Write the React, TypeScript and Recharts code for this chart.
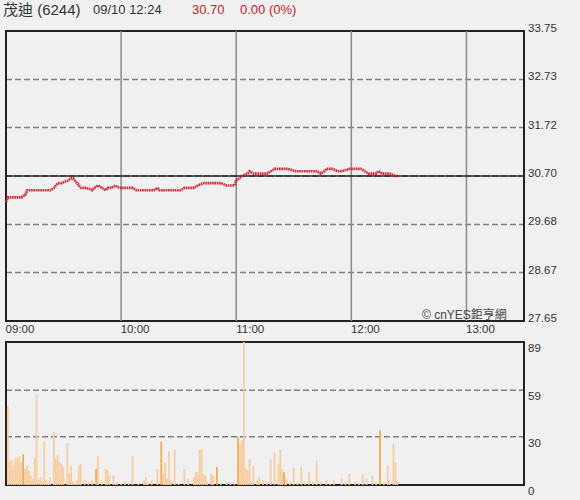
import React from 'react';
import {
  LineChart, Line, BarChart, Bar, Cell, XAxis, YAxis, CartesianGrid, ReferenceLine, ReferenceArea,
} from 'recharts';

// minutes since 09:00 and last price
const priceMinutes = [0, 1, 3, 5, 8, 10, 11, 14, 18, 23, 25, 27, 29, 32, 34, 35, 37, 39, 40, 42, 45, 46, 48, 50, 52, 53, 55, 57, 59, 63, 66, 68, 70, 77, 79, 80, 82, 91, 93, 98, 100, 103, 106, 110, 112, 115, 119, 120, 123, 126, 127, 129, 132, 134, 136, 138, 140, 143, 147, 151, 159, 162, 164, 166, 167, 170, 173, 175, 179, 182, 185, 187, 189, 191, 193, 194, 196, 198, 200, 203, 204];
const prices = [30.15, 30.25, 30.25, 30.25, 30.25, 30.3, 30.4, 30.4, 30.4, 30.4, 30.45, 30.55, 30.55, 30.6, 30.65, 30.65, 30.55, 30.45, 30.45, 30.45, 30.4, 30.45, 30.5, 30.45, 30.4, 30.45, 30.45, 30.5, 30.45, 30.45, 30.45, 30.4, 30.4, 30.4, 30.45, 30.4, 30.4, 30.4, 30.45, 30.45, 30.5, 30.55, 30.55, 30.55, 30.55, 30.5, 30.5, 30.6, 30.7, 30.75, 30.8, 30.75, 30.75, 30.75, 30.75, 30.8, 30.85, 30.85, 30.85, 30.8, 30.8, 30.8, 30.75, 30.8, 30.85, 30.85, 30.8, 30.8, 30.85, 30.85, 30.85, 30.8, 30.75, 30.75, 30.75, 30.8, 30.75, 30.75, 30.75, 30.7, 30.7];

// volume per minute (lots)
const volMinutes = [1, 2, 3, 4, 5, 6, 7, 8, 9, 10, 11, 12, 13, 14, 15, 16, 17, 18, 19, 20, 21, 22, 23, 25, 26, 27, 28, 29, 30, 32, 33, 34, 35, 36, 37, 38, 39, 41, 43, 45, 47, 48, 50, 52, 53, 54, 56, 57, 58, 60, 62, 64, 66, 69, 72, 73, 74, 76, 79, 81, 82, 83, 84, 85, 86, 88, 90, 93, 95, 98, 99, 100, 101, 102, 103, 104, 105, 107, 108, 110, 112, 115, 117, 119, 121, 122, 123, 124, 125, 126, 127, 128, 129, 131, 132, 134, 136, 138, 140, 142, 143, 144, 145, 146, 148, 150, 152, 154, 156, 158, 160, 162, 164, 167, 169, 171, 175, 177, 179, 182, 184, 186, 188, 191, 193, 195, 197, 199, 200, 202, 203, 204];
const volumes = [49, 15, 16, 12, 17, 17, 18, 14, 19, 10, 12, 9, 6, 4, 17, 56, 3, 5, 2, 27, 3, 1, 5, 33, 16, 19, 14, 13, 11, 26, 7, 12, 2, 1, 3, 12, 13, 3, 2, 3, 10, 18, 2, 10, 9, 6, 6, 1, 2, 1, 2, 1, 18, 1, 3, 5, 1, 3, 10, 27, 7, 14, 4, 21, 2, 22, 1, 10, 4, 5, 8, 8, 22, 22, 7, 6, 2, 7, 6, 11, 1, 2, 2, 1, 30, 25, 28, 89, 10, 9, 16, 2, 12, 3, 5, 3, 2, 16, 20, 13, 22, 10, 8, 4, 2, 11, 2, 11, 1, 8, 2, 15, 2, 3, 1, 3, 4, 2, 7, 2, 1, 7, 4, 6, 2, 34, 2, 12, 3, 26, 14, 2];
const darkVolMinutes = [9, 47, 81, 110, 121, 145, 195];

const hourTicks = [0, 60, 120, 180, 240];
const hourLabels = ['09:00', '10:00', '11:00', '12:00', '13:00'];
const priceTicks = [27.65, 28.67, 29.68, 30.7, 31.72, 32.73, 33.75];
const volTicks = [0, 30, 59, 89];
const prevClose = 30.7;

const priceData = priceMinutes.map((m, i) => ({ m, price: prices[i] }));
const volData = volMinutes.map((m, i) => ({ m, vol: volumes[i] }));

const FONT = '"Liberation Sans", Arial, "Noto Sans CJK TC", sans-serif';

const TimeTick = ({ x, y, payload }: any) => (
  <text x={x + 14} y={y + 10} textAnchor="middle" fontSize={11.5} fill="#333" fontFamily={FONT}>
    {hourLabels[hourTicks.indexOf(payload.value)]}
  </text>
);

const PriceTick = ({ x, y, payload }: any) => (
  <text x={x} y={y + 1} textAnchor="start" fontSize={11.5} fill="#333" fontFamily={FONT}>
    {payload.value.toFixed(2)}
  </text>
);

const VolTick = ({ x, y, payload }: any) => (
  <text x={x} y={y + 10} textAnchor="start" fontSize={11.5} fill="#333" fontFamily={FONT}>
    {payload.value}
  </text>
);

export default function App() {
  return (
    <div style={{ position: 'absolute', left: 0, top: 0, width: 580, height: 500, background: '#f0f0f0', fontFamily: FONT, overflow: 'hidden' }}>
      <div style={{ position: 'absolute', left: 3, top: 0, fontSize: 13, color: '#333', whiteSpace: 'nowrap', lineHeight: '20px' }}>
        <span style={{ position: 'absolute', left: 0, fontSize: 15 }}>茂迪 (6244)</span>
        <span style={{ position: 'absolute', left: 90 }}>09/10 12:24</span>
        <span style={{ position: 'absolute', left: 189, color: '#c4232b' }}>30.70</span>
        <span style={{ position: 'absolute', left: 237, color: '#c4232b' }}>0.00 (0%)</span>
      </div>

      <div style={{ position: 'absolute', left: 0, top: 0 }}>
        <LineChart width={580} height={340} data={priceData} margin={{ top: 31, right: 0, bottom: 0, left: 6 }}>
          <CartesianGrid horizontal vertical={false} stroke="#808080" strokeWidth={1.5} strokeDasharray="6 3" />
          <XAxis dataKey="m" type="number" domain={[0, 270]} ticks={hourTicks} tick={<TimeTick />}
            axisLine={false} tickLine={false} tickSize={0} height={19} interval={0} />
          <YAxis orientation="right" type="number" domain={[27.65, 33.75]} ticks={priceTicks} tick={<PriceTick />}
            axisLine={false} tickLine={false} tickSize={0} tickMargin={4} width={56} interval={0} />
          {hourTicks.slice(1).map((t) => (
            <ReferenceLine key={t} x={t} stroke="#8a8a8a" strokeWidth={1.5} />
          ))}
          <ReferenceLine y={prevClose} stroke="#222" strokeWidth={1.5} />
          <ReferenceArea x1={0} x2={270} y1={27.65} y2={33.75} fill="none" stroke="#222" strokeWidth={2} ifOverflow="visible" />
          <Line type="linear" dataKey="price" stroke="#d4242e" strokeWidth={2.6} strokeDasharray="1.6 0.7" dot={false} isAnimationActive={false} />
        </LineChart>
      </div>

      <div style={{ position: 'absolute', left: 422, top: 305, fontSize: 12, color: '#444', whiteSpace: 'nowrap' }}>
        © cnYES鉅亨網
      </div>

      <div style={{ position: 'absolute', left: 0, top: 334 }}>
        <BarChart width={580} height={166} data={volData} margin={{ top: 8, right: 0, bottom: 15, left: 6 }} barCategoryGap={0}>
          <CartesianGrid horizontal vertical={false} stroke="#808080" strokeWidth={1.5} strokeDasharray="6 3" />
          <XAxis dataKey="m" type="number" domain={[0, 270]} hide />
          <YAxis orientation="right" type="number" domain={[0, 89]} ticks={volTicks} tick={<VolTick />}
            axisLine={false} tickLine={false} tickSize={0} tickMargin={4} width={56} interval={0} />
          <Bar dataKey="vol" barSize={2} isAnimationActive={false}>
            {volData.map((d) => (
              <Cell key={d.m} fill={darkVolMinutes.includes(d.m) ? '#eeab4e' : '#f8cb9c'} />
            ))}
          </Bar>
          <ReferenceArea x1={0} x2={270} y1={0} y2={89} fill="none" stroke="#222" strokeWidth={2} ifOverflow="visible" />
        </BarChart>
      </div>
    </div>
  );
}
